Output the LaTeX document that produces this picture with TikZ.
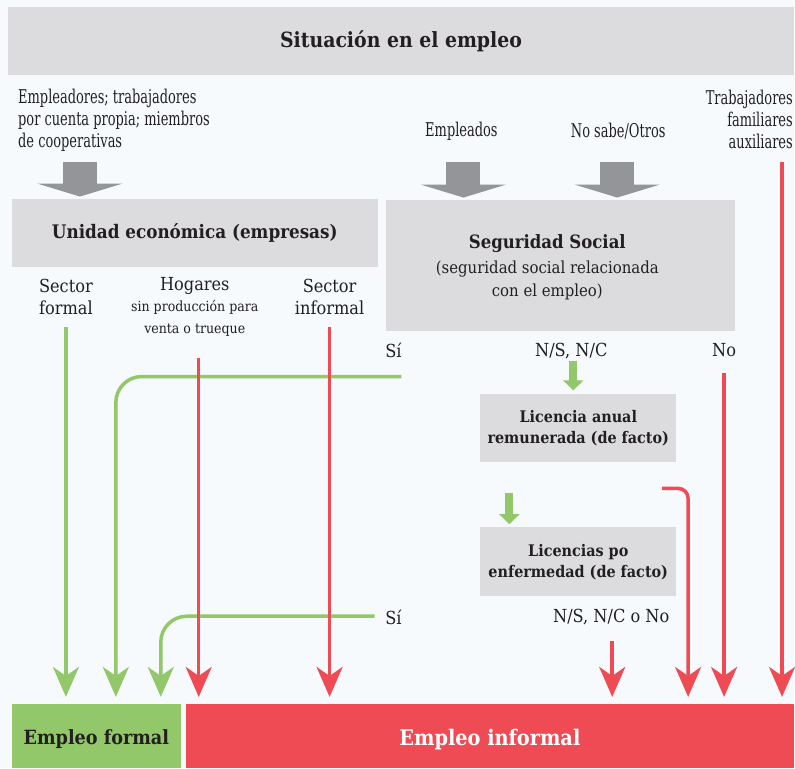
\documentclass[tikz,border=0pt]{standalone}
\usepackage{fontspec}
\setmainfont{DejaVu Serif Condensed}
\newfontfamily\narrowfont[FakeStretch=0.76]{DejaVu Serif Condensed}
\usetikzlibrary{arrows.meta,positioning}
\definecolor{bgcol}{HTML}{F6FAFD}
\definecolor{boxgray}{HTML}{DCDCDE}
\definecolor{arrowgray}{HTML}{939598}
\definecolor{okgreen}{HTML}{92C869}
\definecolor{badred}{HTML}{EF4B55}
\definecolor{ink}{HTML}{231F20}

\begin{document}
\begin{tikzpicture}[x=1pt,y=-1pt,
	box/.style={fill=boxgray,inner sep=0pt,align=center,text=ink},
	txt/.style={inner sep=0pt,text=ink,align=center,font=\fontsize{18}{22}\selectfont},
	smalltxt/.style={inner sep=0pt,text=ink,align=center,font=\fontsize{14}{22}\selectfont},
	narrow/.style={inner sep=0pt,text=ink,font=\narrowfont\fontsize{19}{22}\selectfont},
	greenline/.style={okgreen,line width=3.5pt,-{Stealth[length=30pt,width=26pt,inset=9pt]},shorten >=7pt,rounded corners=26pt},
	redline/.style={badred,line width=3.5pt,-{Stealth[length=30pt,width=26pt,inset=9pt]},shorten >=7pt,rounded corners=10pt},
	bigdown/.style={arrowgray,line width=34pt,-{Triangle[length=13pt,width=85pt]},shorten >=2pt},
	smalldown/.style={okgreen,line width=8pt,-{Triangle[length=10pt,width=20pt]},shorten >=3pt}]
	\fill[bgcol] (0,0) rectangle (795,769);

	\node[box,minimum width=787pt,minimum height=68pt,font=\bfseries\fontsize{21}{24}\selectfont] (sit) at (401.5,41) {Situación en el empleo};
	\node[narrow,anchor=west,align=left] (empl) at (18,120) {Empleadores; trabajadores\\por cuenta propia; miembros\\de cooperativas};
	\node[narrow,anchor=east,align=right] (famil) at (794,120) {Trabajadores\\familiares\\auxiliares};
	\node[narrow] (empd) at (462,131) {Empleados};
	\node[narrow] (nosabe) at (619,131) {No sabe/Otros};

	\node[box,minimum width=366pt,minimum height=68pt,font=\bfseries\fontsize{18.7}{22}\selectfont] (unidad) at (195,233) {Unidad económica (empresas)};
	\node[box,minimum width=350pt,minimum height=131pt] (segsoc) at (561,265.5) {};
	\node[txt,font=\fontsize{16.6}{23}\selectfont] (sstext) at (548,268) {{\bfseries\fontsize{18.4}{23}\selectfont Seguridad Social}\\[2pt](seguridad social relacionada\\con el empleo)};

	\node[txt] (sf) at (66,297) {Sector\\formal};
	\node[txt] (hog) at (195,286) {Hogares};
	\node[smalltxt,below=6pt of hog] (hogsub) {sin producción para\\venta o trueque};
	\node[txt] (sinf) at (330,297) {Sector\\informal};

	\node[txt] (si1) at (394,351) {Sí};
	\node[txt] (nsnc) at (572,351) {N/S, N/C};
	\node[txt] (no1) at (725,351) {No};

	\node[box,minimum width=196pt,minimum height=69pt,font=\bfseries\fontsize{16}{21}\selectfont] (lic1) at (579,428.5) {Licencia anual\\remunerada (de facto)};
	\node[box,minimum width=196pt,minimum height=69pt,font=\bfseries\fontsize{16}{21}\selectfont] (lic2) at (579,562.5) {Licencias po\\enfermedad (de facto)};
	\node[txt] (si2) at (394,618) {Sí};
	\node[txt] (nsncno) at (612,618) {N/S, N/C o No};

	\node[box,fill=okgreen,minimum width=169pt,minimum height=64pt,text height=22pt,text depth=5pt,font=\bfseries\fontsize{19.6}{22}\selectfont] (formal) at (96.5,737) {Empleo formal};
	\node[box,fill=badred,text=white,minimum width=609pt,minimum height=64pt,text height=23pt,text depth=5pt,font=\bfseries\fontsize{21.5}{22}\selectfont] (informal) at (490.5,737) {Empleo informal};

	% gray entry arrows
	\draw[bigdown] (80,162) -- (80,162 |- unidad.north);
	\draw[bigdown] (464,162) -- (464,162 |- segsoc.north);
	\draw[bigdown] (618,162) -- (618,162 |- segsoc.north);

	% green paths to formal
	\coordinate (g1) at (66,327);
	\coordinate (g2) at (402,377);
	\coordinate (g2b) at (116,377);
	\coordinate (g3) at (375,617);
	\coordinate (g3b) at (161,617);
	\draw[greenline] (g1) -- (g1 |- formal.north);
	\draw[greenline] (g2) -- (g2b) -- (g2b |- formal.north);
	\draw[greenline] (g3) -- (g3b) -- (g3b |- formal.north);
	\draw[smalldown] (574,361) -- (574,361 |- lic1.north);
	\draw[smalldown] (510,494) -- (510,494 |- lic2.north);

	% red paths to informal
	\coordinate (r1) at (199,358);
	\coordinate (r2) at (330,327);
	\coordinate (r3) at (613,642);
	\coordinate (r4) at (663,489);
	\coordinate (r4b) at (689,489);
	\coordinate (r5) at (725,373);
	\coordinate (r6) at (783,162);
	\draw[redline] (r1) -- (r1 |- informal.north);
	\draw[redline] (r2) -- (r2 |- informal.north);
	\draw[redline] (r3) -- (r3 |- informal.north);
	\draw[redline] (r4) -- (r4b) -- (r4b |- informal.north);
	\draw[redline] (r5) -- (r5 |- informal.north);
	\draw[redline] (r6) -- (r6 |- informal.north);
\end{tikzpicture}
\end{document}
